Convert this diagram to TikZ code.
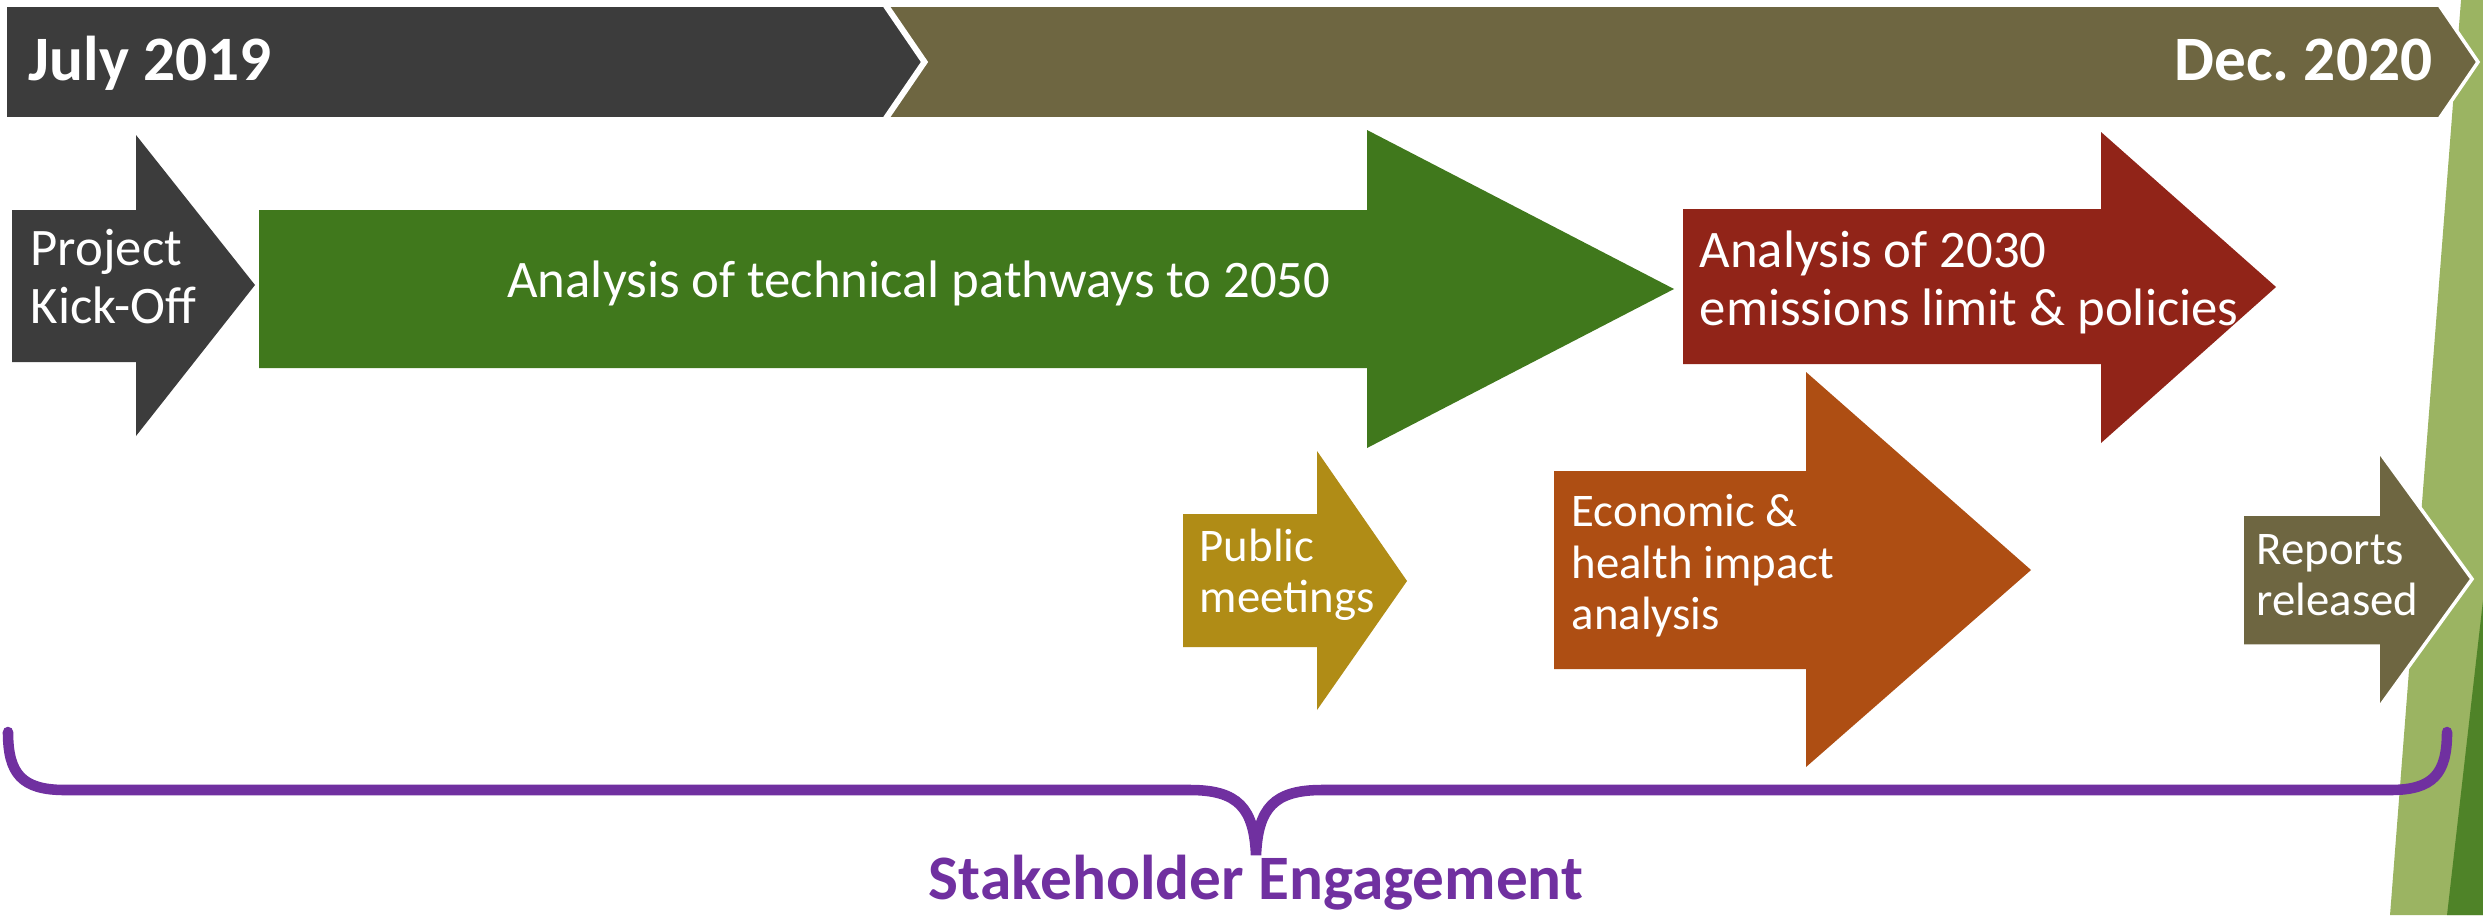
\documentclass[tikz,border=0pt]{standalone}
\usepackage{fontspec}
\setmainfont{Carlito}
\definecolor{banner}{RGB}{60,60,60}
\definecolor{olive}{RGB}{110,102,65}
\definecolor{techgreen}{RGB}{64,120,28}
\definecolor{policyred}{RGB}{145,36,24}
\definecolor{meetgold}{RGB}{176,140,22}
\definecolor{econrust}{RGB}{174,78,19}
\definecolor{leafgreen}{RGB}{155,180,98}
\definecolor{deepgreen}{RGB}{79,131,40}
\definecolor{engage}{RGB}{112,48,160}
\begin{document}
\begin{tikzpicture}[x=0.01cm,y=-0.01cm,
  date/.style={text=white,inner sep=0pt,font=\fontsize{18}{20}\selectfont\bfseries},
  bigtxt/.style={text=white,align=left,anchor=west,inner sep=0pt,font=\fontsize{15}{16.5}\selectfont},
  smalltxt/.style={text=white,align=left,anchor=west,inner sep=0pt,font=\fontsize{13.3}{14.6}\selectfont}]
  \fill[white] (0,0) rectangle (2483,915);
  \useasboundingbox (0,0) rectangle (2483,915);
  \fill[leafgreen] (2461,0) -- (2483,0) -- (2483,915) -- (2390,915) -- cycle;
  \fill[deepgreen] (2483,600) -- (2483,915) -- (2447,915) -- cycle;
  \filldraw[fill=banner,draw=white,line width=1pt] (5,5) -- (884,5) -- (923,62) -- (884,119) -- (5,119) -- cycle;
  \filldraw[fill=olive,draw=white,line width=1pt] (887,5) -- (2439,5) -- (2478,62) -- (2439,119) -- (887,119) -- (926,62) -- cycle;
  \node[date,anchor=base west] (jul) at (28,80) {July 2019};
  \node[date,anchor=base east] (dec) at (2433,80) {Dec.\ 2020};
  \fill[banner] (12,210) -- (136,210) -- (136,135) -- (255,285) -- (136,436) -- (136,362) -- (12,362) -- cycle;
  \fill[techgreen] (259,210) -- (1367,210) -- (1367,130) -- (1674,289) -- (1367,448) -- (1367,368) -- (259,368) -- cycle;
  \fill[policyred] (1683,209) -- (2101,209) -- (2101,132) -- (2276,287) -- (2101,443) -- (2101,364) -- (1683,364) -- cycle;
  \fill[meetgold] (1183,514) -- (1317,514) -- (1317,451) -- (1407,581) -- (1317,710) -- (1317,647) -- (1183,647) -- cycle;
  \fill[econrust] (1554,471) -- (1806,471) -- (1806,372) -- (2031,570) -- (1806,767) -- (1806,669) -- (1554,669) -- cycle;
  \filldraw[fill=olive,draw=white,line width=1pt] (2242,514) -- (2378,514) -- (2378,450) -- (2472,579) -- (2378,709) -- (2378,646) -- (2242,646) -- cycle;
  \node[bigtxt] (kickoff) at (30,277) {Project\\Kick-Off};
  \node[bigtxt,anchor=center] (techpath) at (919,283) {Analysis of technical pathways to 2050};
  \node[bigtxt] (limits) at (1699,282) {Analysis of 2030\\emissions limit \& policies};
  \node[smalltxt] (meetings) at (1199,575) {Public\\meetings};
  \node[smalltxt] (econ) at (1571,566) {Economic \&\\health impact\\analysis};
  \node[smalltxt] (reports) at (2256,575) {Reports\\released};
  \draw[engage,line width=3pt,line cap=round] (8,732) .. controls (8,774) and (22,790) .. (65,790) -- (1190,790)
    .. controls (1238,790) and (1254,808) .. (1256,855) .. controls (1258,808) and (1274,790) .. (1322,790)
    -- (2390,790) .. controls (2433,790) and (2447,774) .. (2447,732);
  \node[engage,inner sep=0pt,anchor=base,font=\fontsize{18}{20}\selectfont\bfseries] (stake) at (1256,899) {Stakeholder Engagement};
\end{tikzpicture}
\end{document}
